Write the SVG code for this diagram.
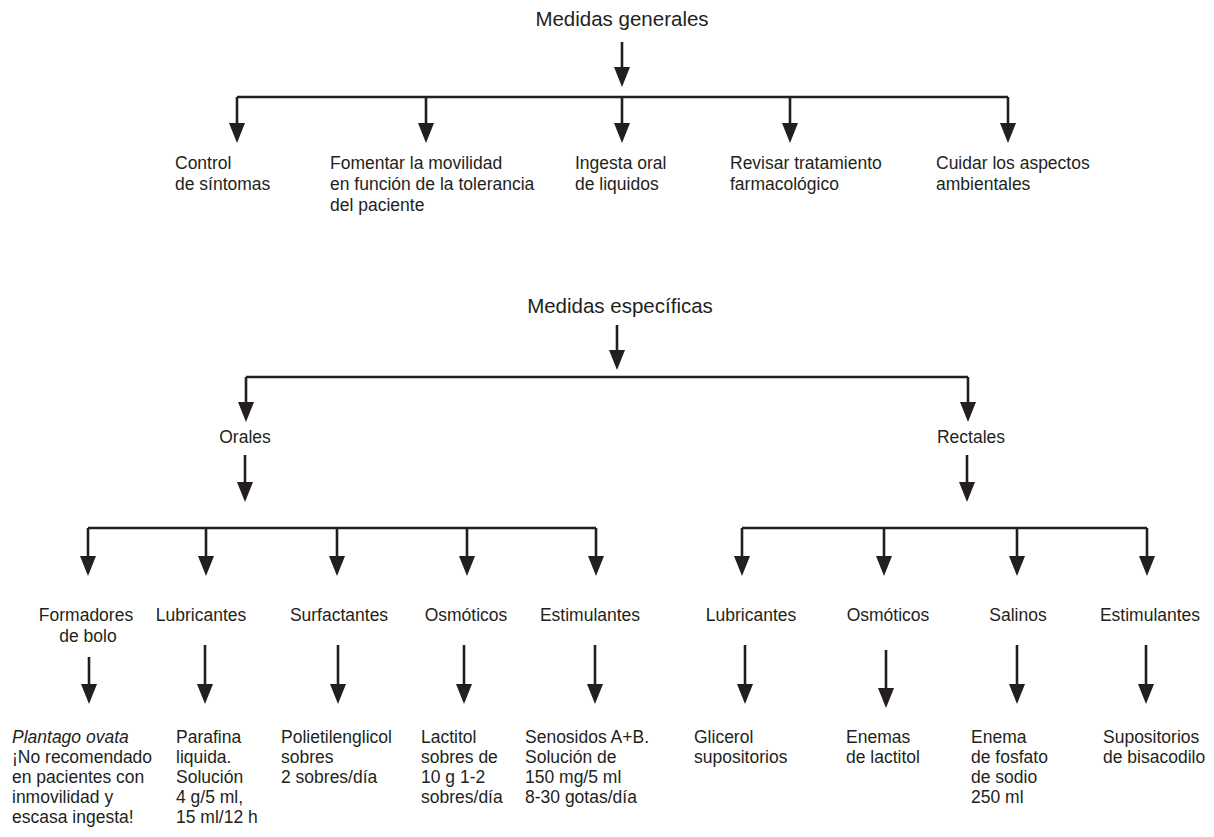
<svg xmlns="http://www.w3.org/2000/svg" width="1214" height="837" viewBox="0 0 1214 837">
  <style>
    text { font-family: "Liberation Sans", Arial, sans-serif; fill: #231f20; }
    .head { font-size: 20.5px; text-anchor: middle; }
    .lbl { font-size: 17.5px; }
    .mid { text-anchor: middle; }
    .it { font-style: italic; }
    .wire { stroke: #231f20; stroke-width: 2.6; fill: none; }
    .arr { marker-end: url(#tip); }
  </style>
  <defs>
    <marker id="tip" viewBox="0 0 20 16" refX="10" refY="8" markerWidth="20" markerHeight="16" markerUnits="userSpaceOnUse" orient="auto">
      <path d="M0,0 L20,8 L0,16 Z" fill="#231f20"/>
    </marker>
  </defs>
  <rect width="1214" height="837" fill="#ffffff"/>

  <!-- connectors -->
  <g id="connectors">
    <!-- general measures -->
    <line class="wire arr" x1="622" y1="42" x2="622" y2="77"/>
    <line class="wire" x1="237" y1="97" x2="1008" y2="97"/>
    <line class="wire arr" x1="237" y1="97" x2="237" y2="133"/>
    <line class="wire arr" x1="426" y1="97" x2="426" y2="133"/>
    <line class="wire arr" x1="622" y1="97" x2="622" y2="133"/>
    <line class="wire arr" x1="790" y1="97" x2="790" y2="133"/>
    <line class="wire arr" x1="1008" y1="97" x2="1008" y2="133"/>

    <!-- specific measures -->
    <line class="wire arr" x1="617" y1="325" x2="617" y2="360"/>
    <line class="wire" x1="246" y1="377" x2="968" y2="377"/>
    <line class="wire arr" x1="246" y1="377" x2="246" y2="412"/>
    <line class="wire arr" x1="968" y1="377" x2="968" y2="412"/>

    <line class="wire arr" x1="245" y1="455" x2="245" y2="492"/>
    <line class="wire arr" x1="967" y1="455" x2="967" y2="492"/>

    <!-- oral branches -->
    <line class="wire" x1="88" y1="528" x2="596" y2="528"/>
    <line class="wire arr" x1="88" y1="528" x2="88" y2="566"/>
    <line class="wire arr" x1="206" y1="528" x2="206" y2="566"/>
    <line class="wire arr" x1="337" y1="528" x2="337" y2="566"/>
    <line class="wire arr" x1="467" y1="528" x2="467" y2="566"/>
    <line class="wire arr" x1="596" y1="528" x2="596" y2="566"/>

    <!-- rectal branches -->
    <line class="wire" x1="742" y1="528" x2="1147" y2="528"/>
    <line class="wire arr" x1="742" y1="528" x2="742" y2="566"/>
    <line class="wire arr" x1="884" y1="528" x2="884" y2="566"/>
    <line class="wire arr" x1="1017" y1="528" x2="1017" y2="566"/>
    <line class="wire arr" x1="1147" y1="528" x2="1147" y2="566"/>

    <!-- category to product -->
    <line class="wire arr" x1="89" y1="657" x2="89" y2="694"/>
    <line class="wire arr" x1="205" y1="645" x2="205" y2="694"/>
    <line class="wire arr" x1="338" y1="645" x2="338" y2="694"/>
    <line class="wire arr" x1="464" y1="645" x2="464" y2="694"/>
    <line class="wire arr" x1="595" y1="645" x2="595" y2="694"/>
    <line class="wire arr" x1="745" y1="645" x2="745" y2="694"/>
    <line class="wire arr" x1="886" y1="650" x2="886" y2="698"/>
    <line class="wire arr" x1="1017" y1="645" x2="1017" y2="694"/>
    <line class="wire arr" x1="1146" y1="645" x2="1146" y2="694"/>
  </g>

  <!-- general measures -->
  <g id="medidas-generales"><text class="head" x="622" y="26">Medidas generales</text></g>
  <g id="control-sintomas"><text class="lbl" x="175" y="169">Control</text><text class="lbl" x="175" y="190">de síntomas</text></g>
  <g id="movilidad"><text class="lbl" x="330" y="169">Fomentar la movilidad</text><text class="lbl" x="330" y="190">en función de la tolerancia</text><text class="lbl" x="330" y="211">del paciente</text></g>
  <g id="ingesta"><text class="lbl" x="575" y="169">Ingesta oral</text><text class="lbl" x="575" y="190">de liquidos</text></g>
  <g id="tratamiento"><text class="lbl" x="730" y="169">Revisar tratamiento</text><text class="lbl" x="730" y="190">farmacológico</text></g>
  <g id="ambientales"><text class="lbl" x="936" y="169">Cuidar los aspectos</text><text class="lbl" x="936" y="190">ambientales</text></g>

  <!-- specific measures -->
  <g id="medidas-especificas"><text class="head" x="620" y="313">Medidas específicas</text></g>
  <g id="orales"><text class="lbl mid" x="245" y="443">Orales</text></g>
  <g id="rectales"><text class="lbl mid" x="971" y="443">Rectales</text></g>

  <!-- oral categories -->
  <g id="formadores"><text class="lbl mid" x="86" y="621">Formadores</text><text class="lbl mid" x="88" y="642">de bolo</text></g>
  <g id="lubricantes-o"><text class="lbl mid" x="201" y="621">Lubricantes</text></g>
  <g id="surfactantes"><text class="lbl mid" x="339" y="621">Surfactantes</text></g>
  <g id="osmoticos-o"><text class="lbl mid" x="466" y="621">Osmóticos</text></g>
  <g id="estimulantes-o"><text class="lbl mid" x="590" y="621">Estimulantes</text></g>

  <!-- rectal categories -->
  <g id="lubricantes-r"><text class="lbl mid" x="751" y="621">Lubricantes</text></g>
  <g id="osmoticos-r"><text class="lbl mid" x="888" y="621">Osmóticos</text></g>
  <g id="salinos"><text class="lbl mid" x="1018" y="621">Salinos</text></g>
  <g id="estimulantes-r"><text class="lbl mid" x="1150" y="621">Estimulantes</text></g>

  <!-- products -->
  <g id="plantago">
    <text class="lbl it" x="12" y="743">Plantago ovata</text>
    <text class="lbl" x="12" y="763">¡No recomendado</text>
    <text class="lbl" x="12" y="783">en pacientes con</text>
    <text class="lbl" x="12" y="803">inmovilidad y</text>
    <text class="lbl" x="12" y="823">escasa ingesta!</text>
  </g>
  <g id="parafina">
    <text class="lbl" x="176" y="743">Parafina</text>
    <text class="lbl" x="176" y="763">liquida.</text>
    <text class="lbl" x="176" y="783">Solución</text>
    <text class="lbl" x="176" y="803">4 g/5 ml,</text>
    <text class="lbl" x="176" y="823">15 ml/12 h</text>
  </g>
  <g id="polietilenglicol">
    <text class="lbl" x="281" y="743">Polietilenglicol</text>
    <text class="lbl" x="281" y="763">sobres</text>
    <text class="lbl" x="281" y="783">2 sobres/día</text>
  </g>
  <g id="lactitol">
    <text class="lbl" x="421" y="743">Lactitol</text>
    <text class="lbl" x="421" y="763">sobres de</text>
    <text class="lbl" x="421" y="783">10 g 1-2</text>
    <text class="lbl" x="421" y="803">sobres/día</text>
  </g>
  <g id="senosidos">
    <text class="lbl" x="525" y="743">Senosidos A+B.</text>
    <text class="lbl" x="525" y="763">Solución de</text>
    <text class="lbl" x="525" y="783">150 mg/5 ml</text>
    <text class="lbl" x="525" y="803">8-30 gotas/día</text>
  </g>
  <g id="glicerol">
    <text class="lbl" x="694" y="743">Glicerol</text>
    <text class="lbl" x="694" y="763">supositorios</text>
  </g>
  <g id="enemas-lactitol">
    <text class="lbl" x="846" y="743">Enemas</text>
    <text class="lbl" x="846" y="763">de lactitol</text>
  </g>
  <g id="enema-fosfato">
    <text class="lbl" x="971" y="743">Enema</text>
    <text class="lbl" x="971" y="763">de fosfato</text>
    <text class="lbl" x="971" y="783">de sodio</text>
    <text class="lbl" x="971" y="803">250 ml</text>
  </g>
  <g id="bisacodilo">
    <text class="lbl" x="1103" y="743">Supositorios</text>
    <text class="lbl" x="1103" y="763">de bisacodilo</text>
  </g>
</svg>
